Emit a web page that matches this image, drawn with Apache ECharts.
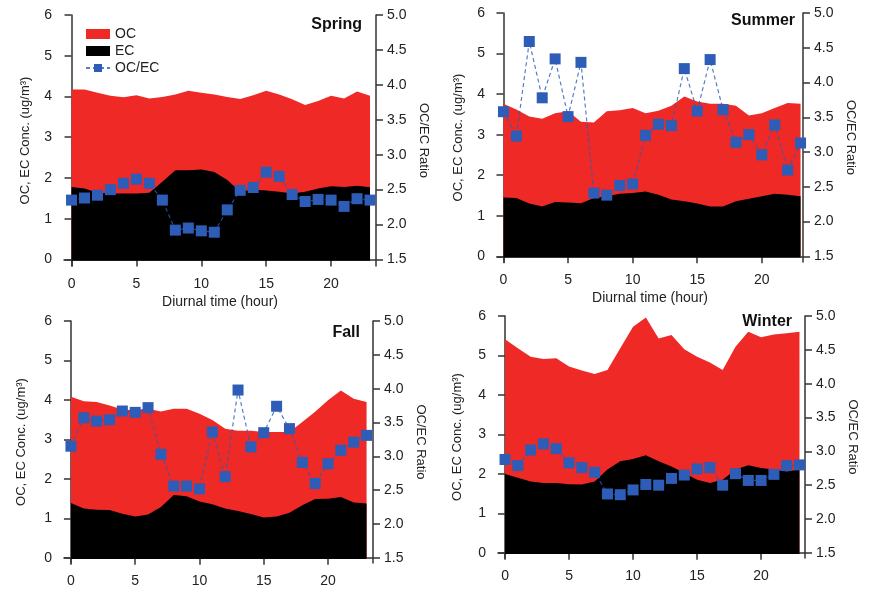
<!DOCTYPE html>
<html>
<head>
<meta charset="utf-8">
<title>OC / EC diurnal variation</title>
<script src="https://cdn.jsdelivr.net/npm/echarts@6/dist/echarts.min.js"></script>
<style>
  html, body { margin: 0; padding: 0; background: #fff; }
  #chart { width: 869px; height: 595px; }
</style>
</head>
<body>
<div id="chart"></div>
<script>
const hours = [0, 1, 2, 3, 4, 5, 6, 7, 8, 9, 10, 11, 12, 13, 14, 15, 16, 17, 18, 19, 20, 21, 22, 23]
const hourTicks = [0, 5, 10, 15, 20]
const concTicks = [0, 1, 2, 3, 4, 5, 6]
const ratioTicks = [1.5, 2.0, 2.5, 3.0, 3.5, 4.0, 4.5, 5.0]

const springOC = [4.17, 4.17, 4.09, 4.02, 3.98, 4.03, 3.95, 3.99, 4.05, 4.14, 4.09, 4.05, 3.99, 3.94, 4.03, 4.14, 4.05, 3.93, 3.79, 3.89, 4.02, 3.95, 4.12, 4.02]
const springEC = [1.78, 1.74, 1.64, 1.62, 1.62, 1.62, 1.64, 1.91, 2.19, 2.19, 2.21, 2.15, 1.95, 1.66, 1.72, 1.69, 1.66, 1.62, 1.66, 1.74, 1.80, 1.78, 1.81, 1.77]
const springRatio = [2.35, 2.38, 2.42, 2.50, 2.59, 2.65, 2.59, 2.35, 1.92, 1.95, 1.91, 1.89, 2.21, 2.49, 2.53, 2.75, 2.69, 2.43, 2.33, 2.36, 2.35, 2.26, 2.37, 2.35]

const summerOC = [3.76, 3.62, 3.45, 3.39, 3.53, 3.58, 3.32, 3.30, 3.58, 3.60, 3.66, 3.53, 3.59, 3.71, 3.94, 3.82, 3.76, 3.76, 3.71, 3.47, 3.53, 3.66, 3.78, 3.76]
const summerEC = [1.45, 1.44, 1.30, 1.23, 1.34, 1.33, 1.31, 1.44, 1.48, 1.54, 1.56, 1.60, 1.52, 1.40, 1.36, 1.30, 1.23, 1.23, 1.36, 1.42, 1.48, 1.54, 1.52, 1.48]
const summerRatio = [3.58, 3.23, 4.59, 3.78, 4.34, 3.51, 4.29, 2.41, 2.38, 2.52, 2.54, 3.24, 3.40, 3.38, 4.20, 3.59, 4.33, 3.61, 3.14, 3.25, 2.96, 3.39, 2.74, 3.13]

const fallOC = [4.08, 3.97, 3.95, 3.86, 3.76, 3.74, 3.78, 3.71, 3.78, 3.78, 3.65, 3.49, 3.27, 3.22, 3.22, 3.19, 3.19, 3.19, 3.44, 3.70, 3.99, 4.24, 4.03, 3.95]
const fallEC = [1.39, 1.25, 1.22, 1.21, 1.12, 1.05, 1.10, 1.29, 1.59, 1.56, 1.43, 1.36, 1.25, 1.19, 1.11, 1.02, 1.05, 1.14, 1.33, 1.49, 1.50, 1.54, 1.40, 1.38]
const fallRatio = [3.15, 3.57, 3.52, 3.54, 3.67, 3.65, 3.72, 3.03, 2.56, 2.56, 2.52, 3.36, 2.70, 3.98, 3.14, 3.35, 3.74, 3.41, 2.91, 2.60, 2.89, 3.09, 3.21, 3.31]

const winterOC = [5.41, 5.18, 4.97, 4.91, 4.93, 4.72, 4.62, 4.53, 4.63, 5.18, 5.73, 5.96, 5.43, 5.52, 5.16, 4.97, 4.82, 4.63, 5.22, 5.60, 5.46, 5.53, 5.56, 5.60]
const winterEC = [2.00, 1.90, 1.81, 1.77, 1.77, 1.74, 1.73, 1.81, 2.11, 2.32, 2.38, 2.47, 2.32, 2.19, 2.02, 1.85, 1.77, 1.85, 2.11, 2.22, 2.15, 2.11, 2.06, 2.11]
const winterRatio = [2.88, 2.79, 3.02, 3.11, 3.04, 2.83, 2.76, 2.69, 2.37, 2.36, 2.43, 2.51, 2.50, 2.60, 2.65, 2.74, 2.76, 2.50, 2.67, 2.57, 2.57, 2.66, 2.79, 2.80]

const RED = '#ee2926'
const BLUE = '#2d5db6'
const AXIS = '#333'
const FONT = 'Liberation Sans'

// panel layout: grid box in px, axis ranges padded so the frame sits off the data
const panels = [
  { name: 'Spring', oc: springOC, ec: springEC, ratio: springRatio, left: 64, top: 15, width: 312, height: 251, xMin: -0.58, xMax: 23.46, yMin: -0.16, xTitle: true, yGap: 32, titleRight: 507, titleTop: 17 },
  { name: 'Summer', oc: summerOC, ec: summerEC, ratio: summerRatio, left: 497, top: 13, width: 306, height: 249, xMin: -0.5, xMax: 23.19, yMin: -0.14, xTitle: true, yGap: 32, titleRight: 74, titleTop: 13 },
  { name: 'Fall', oc: fallOC, ec: fallEC, ratio: fallRatio, left: 64, top: 321, width: 309, height: 242, xMin: -0.54, xMax: 23.5, yMin: -0.13, xTitle: false, yGap: 36, titleRight: 509, titleTop: 325 },
  { name: 'Winter', oc: winterOC, ec: winterEC, ratio: winterRatio, left: 498, top: 316, width: 307, height: 242, xMin: -0.55, xMax: 23.43, yMin: -0.13, xTitle: false, yGap: 34, titleRight: 77, titleTop: 314 }
]

const toPairs = (ys) => hours.map((h, i) => [h, ys[i]])

const axisLine = { show: true, lineStyle: { color: AXIS, width: 1.5 } }
const axisTick = (values) => ({ show: true, inside: false, length: 7, customValues: values, lineStyle: { color: AXIS, width: 1.5 } })
const labelStyle = { color: '#222', fontSize: 14, fontFamily: FONT }

const grid = []
const xAxis = []
const yAxis = []
const series = []
const title = []

panels.forEach((p, i) => {
  grid.push({ left: p.left, top: p.top, width: p.width, height: p.height })

  xAxis.push({
    type: 'value',
    gridIndex: i,
    min: p.xMin,
    max: p.xMax,
    axisLine,
    axisTick: axisTick(hourTicks),
    axisLabel: { ...labelStyle, margin: 11, customValues: hourTicks },
    splitLine: { show: false },
    name: p.xTitle ? 'Diurnal time (hour)' : '',
    nameLocation: 'middle',
    nameGap: 29,
    nameTextStyle: { color: '#222', fontSize: 14, fontFamily: FONT }
  })

  // left: concentration, right: ratio (same relative padding at the bottom)
  yAxis.push({
    type: 'value',
    gridIndex: i,
    position: 'left',
    min: p.yMin,
    max: 6,
    axisLine,
    axisTick: axisTick(concTicks),
    axisLabel: { ...labelStyle, margin: 12, customValues: concTicks },
    splitLine: { show: false },
    name: 'OC, EC Conc. (ug/m³)',
    nameLocation: 'middle',
    nameRotate: 90,
    nameGap: p.yGap,
    nameMoveOverlap: false,
    nameTextStyle: { color: '#222', fontSize: 13, fontFamily: FONT }
  })
  yAxis.push({
    type: 'value',
    gridIndex: i,
    position: 'right',
    min: 1.5 + p.yMin * 3.5 / 6,
    max: 5,
    axisLine,
    axisTick: axisTick(ratioTicks),
    axisLabel: { ...labelStyle, margin: 11, customValues: ratioTicks, formatter: (v) => v.toFixed(1) },
    splitLine: { show: false },
    name: 'OC/EC Ratio',
    nameLocation: 'middle',
    nameRotate: -90,
    nameGap: 41,
    nameMoveOverlap: false,
    nameTextStyle: { color: '#222', fontSize: 13, fontFamily: FONT }
  })

  series.push({
    name: 'OC',
    type: 'line',
    xAxisIndex: i,
    yAxisIndex: i * 2,
    data: toPairs(p.oc),
    showSymbol: false,
    lineStyle: { width: 0 },
    itemStyle: { color: RED },
    areaStyle: { color: RED, opacity: 1 },
    z: 1,
    silent: true
  })
  // black area reaches a hair below zero so no red fringe shows at the base
  series.push({
    name: 'EC',
    type: 'line',
    xAxisIndex: i,
    yAxisIndex: i * 2,
    data: toPairs(p.ec),
    showSymbol: false,
    lineStyle: { width: 0 },
    itemStyle: { color: '#000' },
    areaStyle: { color: '#000', opacity: 1, origin: -0.03 },
    z: 2,
    silent: true
  })
  series.push({
    name: 'OC/EC',
    type: 'line',
    xAxisIndex: i,
    yAxisIndex: i * 2 + 1,
    data: toPairs(p.ratio),
    symbol: 'rect',
    symbolSize: 11,
    itemStyle: { color: BLUE },
    lineStyle: { color: BLUE, width: 1.2, type: [4, 3], opacity: 0.8 },
    z: 3
  })

  title.push({
    text: p.name,
    right: p.titleRight,
    top: p.titleTop,
    padding: 0,
    textStyle: { fontSize: 16, fontWeight: 'bold', color: '#111', fontFamily: FONT }
  })
})

const chart = echarts.init(document.getElementById('chart'), null, { renderer: 'canvas' })

chart.setOption({
  animation: false,
  backgroundColor: '#fff',
  title,
  legend: {
    left: 80,
    top: 22,
    orient: 'vertical',
    itemGap: 3,
    itemWidth: 24,
    itemHeight: 10,
    textStyle: { color: '#222', fontSize: 14, fontFamily: FONT },
    data: [
      { name: 'OC', icon: 'rect' },
      { name: 'EC', icon: 'rect' },
      { name: 'OC/EC' }
    ]
  },
  grid,
  xAxis,
  yAxis,
  series
})
</script>
</body>
</html>
